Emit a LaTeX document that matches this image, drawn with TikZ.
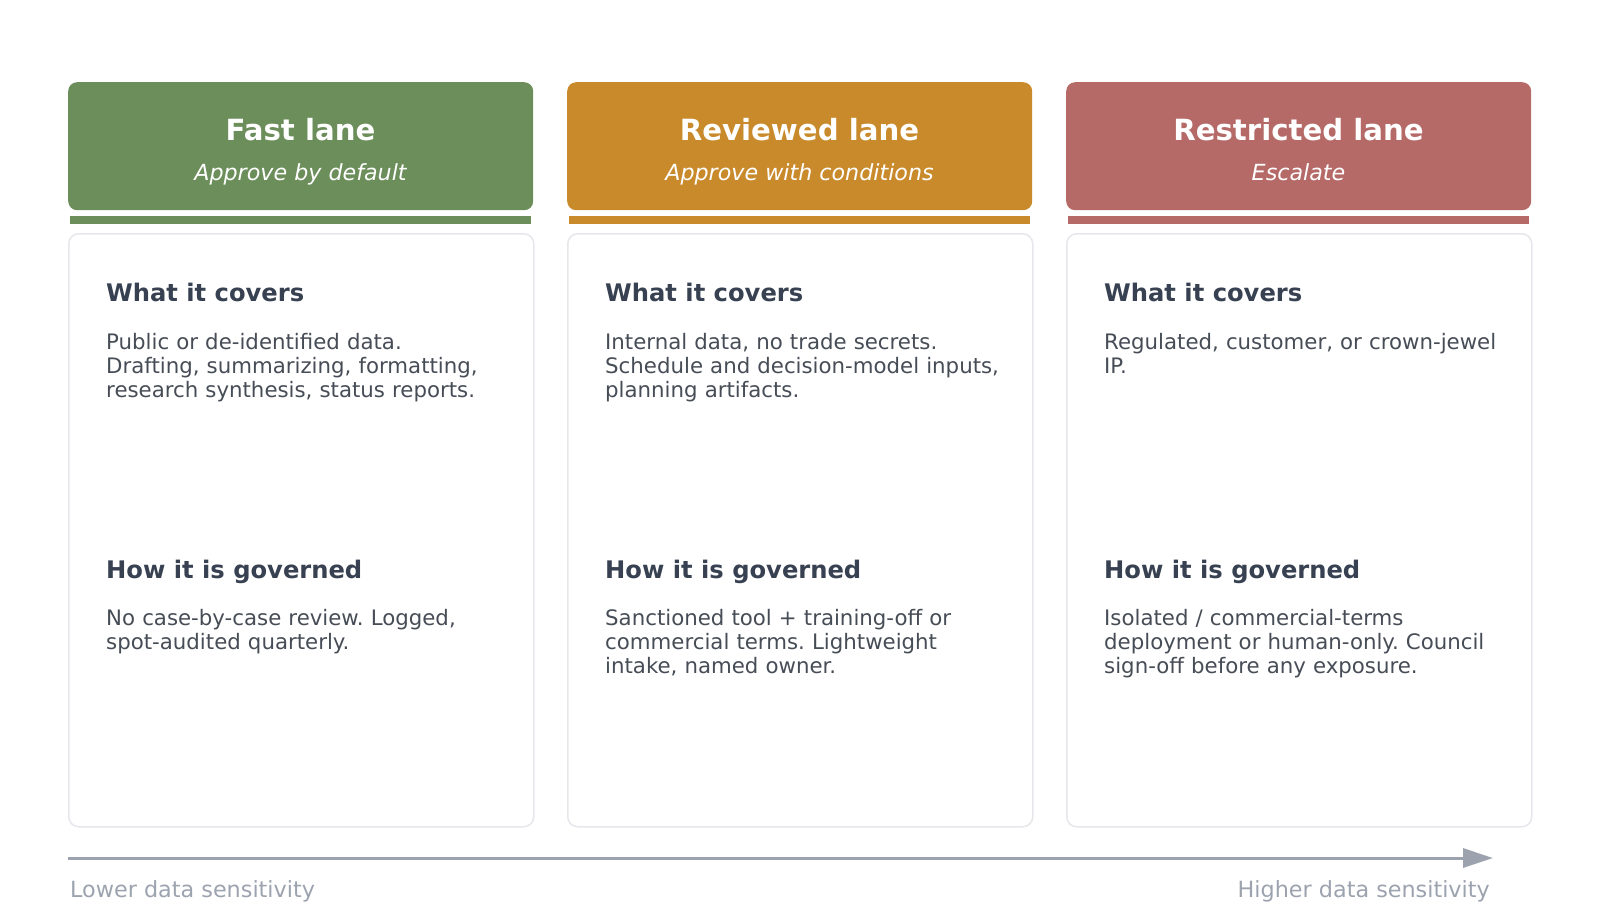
\documentclass[tikz,border=0pt]{standalone}
\usepackage{fontspec}
\setmainfont{DejaVu Sans}
\usetikzlibrary{arrows.meta}
\frenchspacing
\definecolor{cgreen}{HTML}{6B8E5A}
\definecolor{corange}{HTML}{C98A2C}
\definecolor{cred}{HTML}{B56A68}
\definecolor{chead}{HTML}{374151}
\definecolor{cbody}{HTML}{474D56}
\definecolor{cborder}{HTML}{E5E7EB}
\definecolor{caxis}{HTML}{9CA3AF}
\tikzset{
  hdrbox/.style={rounded corners=9pt, minimum width=465pt, minimum height=128pt, anchor=north west, inner sep=0pt, draw=none},
  stripebox/.style={minimum width=461pt, minimum height=8pt, anchor=north west, inner sep=0pt, draw=none},
  bodybox/.style={rounded corners=10pt, draw=cborder, line width=1.5pt, fill=white, minimum width=465pt, minimum height=593pt, anchor=north west, inner sep=0pt},
  titletxt/.style={anchor=base, inner sep=0pt, text=white, font=\fontsize{29.2}{34}\selectfont\bfseries},
  subtxt/.style={anchor=base, inner sep=0pt, text=white, font=\fontsize{22.2}{26}\selectfont\itshape},
  sectxt/.style={anchor=base west, inner sep=0pt, text=chead, font=\fontsize{24.2}{28}\selectfont\bfseries},
  bodytxt/.style={anchor=base west, inner sep=0pt, text=cbody, align=left, text width=420pt, font=\fontsize{21.3}{24}\selectfont},
  axistxt/.style={inner sep=0pt, text=caxis, font=\fontsize{22.3}{26}\selectfont},
}
\begin{document}
\begin{tikzpicture}[x=1pt,y=-1pt]
\useasboundingbox (0,0) rectangle (1600,914);
% column 1
\node[hdrbox, fill=cgreen] (h1) at (68,82) {};
\node[titletxt] (t1) at (300.5,140) {Fast lane};
\node[subtxt] (s1) at (300.5,180) {Approve by default};
\node[stripebox, fill=cgreen] (st1) at (70,216) {};
\node[bodybox] (b1) at (68,233) {};
\node[sectxt] (c1h) at (106,301) {What it covers};
\node[bodytxt] (c1t) at (106,349) {Public or de-identified data.\\Drafting, summarizing, formatting,\\research synthesis, status reports.};
\node[sectxt] (g1h) at (106,578) {How it is governed};
\node[bodytxt] (g1t) at (106,625) {No case-by-case review. Logged,\\spot-audited quarterly.};
% column 2
\node[hdrbox, fill=corange] (h2) at (567,82) {};
\node[titletxt] (t2) at (799.5,140) {Reviewed lane};
\node[subtxt] (s2) at (799.5,180) {Approve with conditions};
\node[stripebox, fill=corange] (st2) at (569,216) {};
\node[bodybox] (b2) at (567,233) {};
\node[sectxt] (c2h) at (605,301) {What it covers};
\node[bodytxt] (c2t) at (605,349) {Internal data, no trade secrets.\\Schedule and decision-model inputs,\\planning artifacts.};
\node[sectxt] (g2h) at (605,578) {How it is governed};
\node[bodytxt] (g2t) at (605,625) {Sanctioned tool + training-off or\\commercial terms. Lightweight\\intake, named owner.};
% column 3
\node[hdrbox, fill=cred] (h3) at (1066,82) {};
\node[titletxt] (t3) at (1298.5,140) {Restricted lane};
\node[subtxt] (s3) at (1298.5,180) {Escalate};
\node[stripebox, fill=cred] (st3) at (1068,216) {};
\node[bodybox] (b3) at (1066,233) {};
\node[sectxt] (c3h) at (1104,301) {What it covers};
\node[bodytxt] (c3t) at (1104,349) {Regulated, customer, or crown-jewel\\IP.};
\node[sectxt] (g3h) at (1104,578) {How it is governed};
\node[bodytxt] (g3t) at (1104,625) {Isolated / commercial-terms\\deployment or human-only. Council\\sign-off before any exposure.};
% axis
\coordinate (a0) at (68,858);
\coordinate (a1) at (1493,858);
\draw[caxis, line width=3pt, -{Triangle[length=30pt,width=19pt]}] (a0) -- (a1);
\node[axistxt, anchor=base west] (lo) at (70,897) {Lower data sensitivity};
\node[axistxt, anchor=base east] (hi) at (1490,897) {Higher data sensitivity};
\end{tikzpicture}
\end{document}
